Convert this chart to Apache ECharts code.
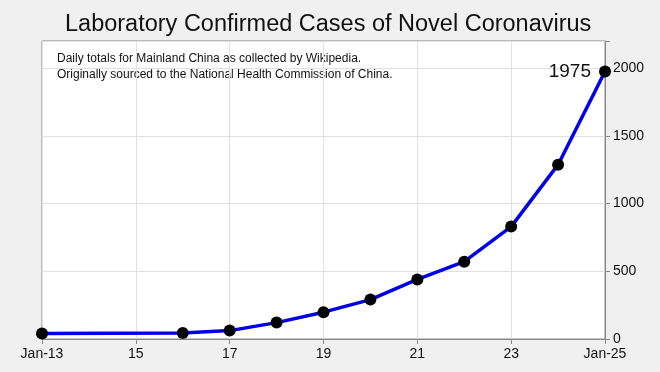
<!DOCTYPE html>
<html><head><meta charset="utf-8">
<script src="https://cdn.jsdelivr.net/npm/echarts@6/dist/echarts.min.js"></script>
<style>html,body{margin:0;padding:0;background:#f0f0f0;}#c{width:660px;height:372px;}</style>
</head><body><div id="c"></div>
<script>
var days = [13, 16, 17, 18, 19, 20, 21, 22, 23, 24, 25];
var cases = [41, 45, 62, 121, 198, 291, 440, 571, 830, 1287, 1975];
var xTicks = [13, 15, 17, 19, 21, 23, 25];
var yTicks = [0, 500, 1000, 1500, 2000];
var titleText = 'Laboratory Confirmed Cases of Novel Coronavirus';
var noteText = 'Daily totals for Mainland China as collected by Wikipedia.\nOriginally sourced to the National Health Commission of China.';

var data = days.map(function(d, i){ return [d, cases[i]]; });
var chart = echarts.init(document.getElementById('c'));
var F = 'Liberation Sans, Arial, sans-serif';
chart.setOption({
  backgroundColor: '#f0f0f0',
  animation: false,
  title: { text: titleText, left: 60, top: 8,
    textStyle: { fontFamily: F, fontSize: 23.5, fontWeight: 'normal', color: '#111' } },
  graphic: [{ type: 'text', left: 57, top: 51,
    style: { text: noteText, font: '12px ' + F, fill: '#111', lineHeight: 16 } }],
  grid: { left: 42, right: 55, top: 41, bottom: 33, show: true, backgroundColor: '#ffffff',
    borderColor: '#888', borderWidth: 1 },
  xAxis: { type: 'value', min: 13, max: 25, interval: 2,
    axisLine: { show: true, lineStyle: { color: '#888' } },
    axisTick: { show: true, length: 5, lineStyle: { color: '#888' } },
    splitLine: { show: true, lineStyle: { color: '#e0e0e0' } },
    axisLabel: { fontFamily: F, fontSize: 14, color: '#111', margin: 8,
      formatter: function(v){ return (v === xTicks[0] || v === xTicks[xTicks.length-1]) ? 'Jan-' + v : String(v); } } },
  yAxis: { type: 'value', position: 'right', min: 0, max: 2200, interval: 500,
    axisLine: { show: true, lineStyle: { color: '#888' } },
    axisTick: { show: true, length: 5, lineStyle: { color: '#888' } },
    splitLine: { show: true, lineStyle: { color: '#e0e0e0' } },
    axisLabel: { fontFamily: F, fontSize: 14, color: '#111', margin: 8,
      formatter: function(v){ return yTicks.indexOf(v) >= 0 ? String(v) : ''; } } },
  series: [{ type: 'line', data: data, smooth: false,
    lineStyle: { color: '#0000e6', width: 3.5 },
    symbol: 'circle', symbolSize: 12,
    itemStyle: { color: '#000' },
    label: { show: true, position: 'left', distance: 8, fontFamily: F, fontSize: 19, color: '#111',
      formatter: function(p){ return p.dataIndex === days.length - 1 ? String(p.value[1]) : ''; } } }]
});
</script></body></html>
